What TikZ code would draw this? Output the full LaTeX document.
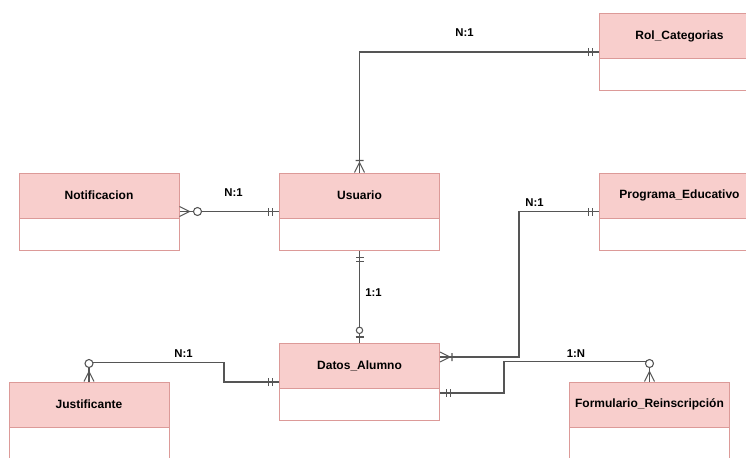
\documentclass[tikz,border=0pt]{standalone}
\usepackage{fontspec}
\setmainfont{Liberation Sans}
\usetikzlibrary{positioning}

\definecolor{erfill}{HTML}{F8CECC}
\definecolor{erline}{HTML}{DC9A98}
\definecolor{relline}{HTML}{555555}

% ER end markers
\pgfdeclarearrow{
  name = er one,
  setup code = {\pgfarrowssettipend{0pt}\pgfarrowssetlineend{0pt}},
  drawing code = {
    \pgfpathmoveto{\pgfqpoint{-5pt}{-3pt}}\pgfpathlineto{\pgfqpoint{-5pt}{3pt}}
    \pgfpathmoveto{\pgfqpoint{-8pt}{-3pt}}\pgfpathlineto{\pgfqpoint{-8pt}{3pt}}
    \pgfusepathqstroke}
}
\pgfdeclarearrow{
  name = er zero one,
  setup code = {\pgfarrowssettipend{0pt}\pgfarrowssetlineend{0pt}},
  drawing code = {
    \pgfpathmoveto{\pgfqpoint{-4.5pt}{-3pt}}\pgfpathlineto{\pgfqpoint{-4.5pt}{3pt}}
    \pgfusepathqstroke
    \pgfsetfillcolor{white}
    \pgfpathcircle{\pgfqpoint{-9.5pt}{0pt}}{2.4pt}
    \pgfusepathqfillstroke}
}
\pgfdeclarearrow{
  name = er one many,
  setup code = {\pgfarrowssettipend{0pt}\pgfarrowssetlineend{0pt}},
  drawing code = {
    \pgfpathmoveto{\pgfqpoint{0pt}{3.75pt}}\pgfpathlineto{\pgfqpoint{-7.5pt}{0pt}}
    \pgfpathlineto{\pgfqpoint{0pt}{-3.75pt}}
    \pgfpathmoveto{\pgfqpoint{-9pt}{-3pt}}\pgfpathlineto{\pgfqpoint{-9pt}{3pt}}
    \pgfusepathqstroke}
}
\pgfdeclarearrow{
  name = er zero many,
  setup code = {\pgfarrowssettipend{0pt}\pgfarrowssetlineend{0pt}},
  drawing code = {
    \pgfpathmoveto{\pgfqpoint{0pt}{3.75pt}}\pgfpathlineto{\pgfqpoint{-7.5pt}{0pt}}
    \pgfpathlineto{\pgfqpoint{0pt}{-3.75pt}}
    \pgfusepathqstroke
    \pgfsetfillcolor{white}
    \pgfpathcircle{\pgfqpoint{-13.5pt}{0pt}}{3pt}
    \pgfusepathqfillstroke}
}

\tikzstyle{entity} = [rectangle, draw=erline, fill=white, line width=0.75pt, minimum width=120pt, minimum height=57.75pt, inner sep=0pt]
\tikzstyle{header} = [rectangle, draw=erline, fill=erfill, line width=0.75pt, minimum width=120pt, minimum height=33.75pt, inner sep=0pt, anchor=north, font=\bfseries\fontsize{9}{10}\selectfont]
\tikzstyle{rel} = [draw=relline, line width=0.8pt]
\tikzstyle{card} = [font=\bfseries\fontsize{8.5}{10}\selectfont, inner sep=0pt]

\begin{document}
\begin{tikzpicture}[x=0.75pt, y=-0.75pt]
\useasboundingbox (0,0) rectangle (746,457);
\clip (0,0) rectangle (746,457);

% Entities
\node (rol) [entity] at (679.5,52) {};
\node (rolH) [header] at (rol.north) {Rol\_Categorias};
\node (prog) [entity] at (679.5,211.5) {};
\node (progH) [header] at (prog.north) {Programa\_Educativo};
\node (usuario) [entity] at (359.5,211.5) {};
\node (usuarioH) [header] at (usuario.north) {Usuario};
\node (notif) [entity] at (99,211.5) {};
\node (notifH) [header] at (notif.north) {Notificacion};
\node (datos) [entity] at (359.5,382) {};
\node (datosH) [header] at (datos.north) {Datos\_Alumno};
\node (justif) [entity] at (89,420.5) {};
\node (justifH) [header] at (justif.north) {Justificante};
\node (form) [entity] at (649.5,420.5) {};
\node (formH) [header] at (form.north) {Formulario\_Reinscripción};

% Relations
\draw [rel, {er one many}-{er one}] (usuario.north) |- (rol.west);
\draw [rel, {er zero many}-{er one}] (notif.east) -- (usuario.west);
\draw [rel, {er one}-{er zero one}] (usuario.south) -- (datos.north);
\draw [rel, {er one many}-{er one}] ([yshift=18.75pt]datos.east) -- ++(79,0) |- (prog.west);
\draw [rel, {er one}-{er zero many}] ([yshift=-8.25pt]datos.east) -- ++(64,0) |- ([yshift=15pt]form.north) -- (form.north);
\draw [rel, {er one}-{er zero many}] (datos.west) -- ++(-55,0) |- ([yshift=14.25pt]justif.north) -- (justif.north);

% Cardinalities
\node (cRol) [card] at (464.5,33) {N:1};
\node (cNotif) [card] at (233.5,193) {N:1};
\node (cDatos) [card] at (373.5,293) {1:1};
\node (cProg) [card] at (534.5,202.5) {N:1};
\node (cForm) [card] at (576,354) {1:N};
\node (cJustif) [card] at (183.5,354) {N:1};
\end{tikzpicture}
\end{document}
